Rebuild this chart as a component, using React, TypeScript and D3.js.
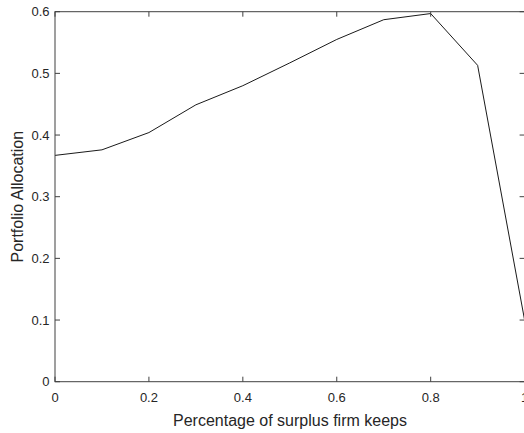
import React from "react";
import * as d3 from "d3";

// Share of surplus the firm keeps vs. resulting portfolio allocation
const keepShare = [0, 0.1, 0.2, 0.3, 0.4, 0.5, 0.6, 0.7, 0.8, 0.9, 1.0];
const allocation = [0.367, 0.376, 0.404, 0.449, 0.48, 0.517, 0.555, 0.587, 0.597, 0.513, 0.1];
const xTicks = [0, 0.2, 0.4, 0.6, 0.8, 1];
const yTicks = [0, 0.1, 0.2, 0.3, 0.4, 0.5, 0.6];

const W = 524;
const H = 433;
const margin = { left: 55, top: 11.7, right: 524.6, bottom: 381.7 };
const axisColor = "#404040";
const textColor = "#262626";
const font = "Arial, 'Liberation Sans', Helvetica, sans-serif";
const tickLen = 5;

export default function App() {
  const x = d3.scaleLinear().domain([0, 1]).range([margin.left, margin.right]);
  const y = d3.scaleLinear().domain([0, 0.6]).range([margin.bottom, margin.top]);
  const line = d3
    .line<number>()
    .x((_, i) => x(keepShare[i]))
    .y((d) => y(d));

  return (
    <svg
      width={W}
      height={H}
      style={{ position: "absolute", left: 0, top: 0, background: "#fff" }}
      fontFamily={font}
    >
      <rect x={0} y={0} width={W} height={H} fill="#fff" />
      {/* data line */}
      <path d={line(allocation) ?? ""} fill="none" stroke="#1a1a1a" strokeWidth={1} />
      {/* axes box */}
      <rect
        x={margin.left}
        y={margin.top}
        width={margin.right - margin.left}
        height={margin.bottom - margin.top}
        fill="none"
        stroke={axisColor}
        strokeWidth={1}
      />
      {/* x ticks, bottom and top */}
      {xTicks.map((t) => (
        <g key={"x" + t}>
          <line x1={x(t)} x2={x(t)} y1={margin.bottom} y2={margin.bottom - tickLen} stroke={axisColor} />
          <line x1={x(t)} x2={x(t)} y1={margin.top} y2={margin.top + tickLen} stroke={axisColor} />
          <text x={x(t)} y={401.7} textAnchor="middle" fontSize={13} fill={textColor}>
            {d3.format("~g")(t)}
          </text>
        </g>
      ))}
      {/* y ticks, left and right */}
      {yTicks.map((t) => (
        <g key={"y" + t}>
          <line x1={margin.left} x2={margin.left + tickLen} y1={y(t)} y2={y(t)} stroke={axisColor} />
          <line x1={margin.right} x2={margin.right - tickLen} y1={y(t)} y2={y(t)} stroke={axisColor} />
          <text x={49.5} y={y(t)} dy="0.35em" textAnchor="end" fontSize={13} fill={textColor}>
            {d3.format("~g")(t)}
          </text>
        </g>
      ))}
      <text x={290} y={425.5} textAnchor="middle" fontSize={16} fill={textColor}>
        Percentage of surplus firm keeps
      </text>
      <text
        transform={`translate(22.5, ${(margin.top + margin.bottom) / 2}) rotate(-90)`}
        textAnchor="middle"
        fontSize={16}
        fill={textColor}
      >
        Portfolio Allocation
      </text>
    </svg>
  );
}
